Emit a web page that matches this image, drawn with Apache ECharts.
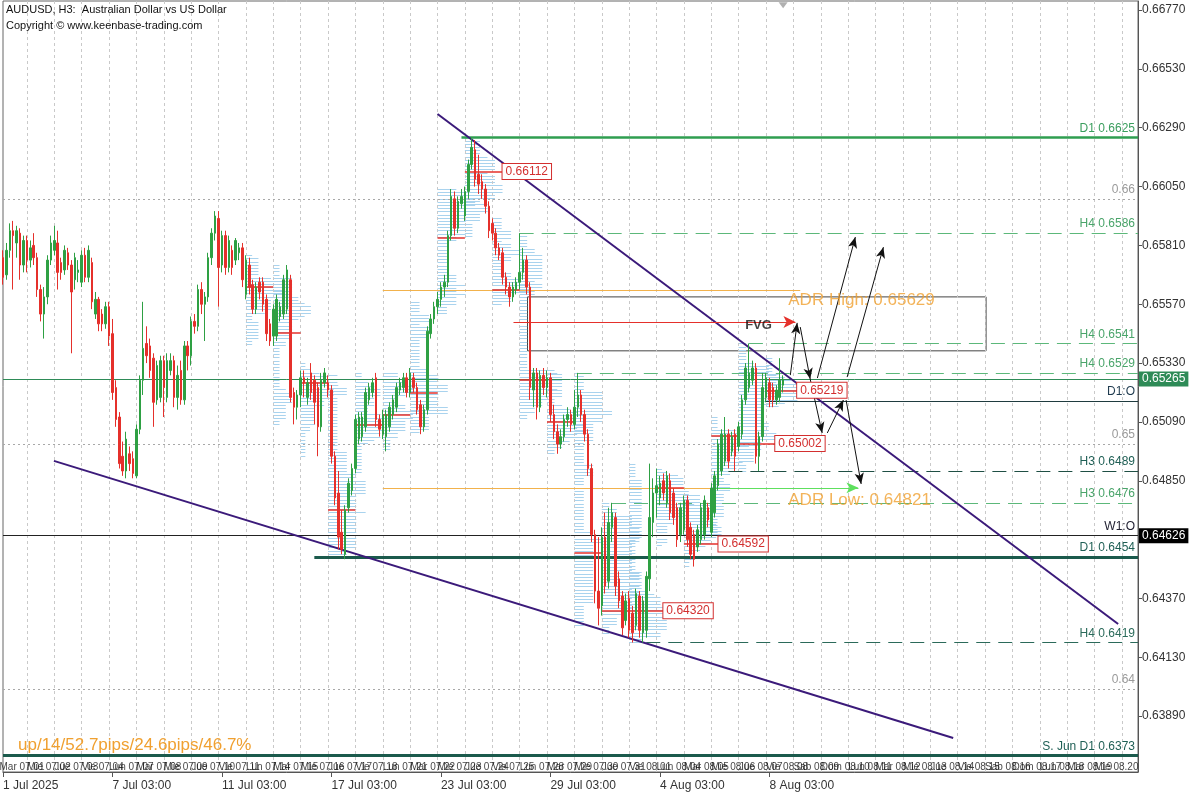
<!DOCTYPE html>
<html><head><meta charset="utf-8">
<script src="https://cdn.jsdelivr.net/npm/echarts@6/dist/echarts.min.js"></script>
<style>html,body{margin:0;padding:0;background:#fff}#c{width:1200px;height:800px}</style>
</head><body><div id="c"></div>
<script>
// ---------- DATA ----------
// H3 bars from 1 Jul 2025 00:00, 8 per trading day: [open, close, low, high]
const ohlc = [
// 1 Jul
[.6572,.6576,.6570,.6580],[.6576,.6568,.6565,.6579],[.6569,.6579,.6567,.6582],[.6579,.6587,.6576,.6590],[.6587,.6585,.6563,.6591],[.6582,.6587,.6576,.6589],[.6586,.6573,.6567,.6588],[.6573,.6583,.6570,.6585],
// 2 Jul
[.6583,.6575,.6570,.6585],[.6575,.6580,.6572,.6583],[.6581,.6576,.6573,.6586],[.6576,.6563,.6560,.6578],[.6563,.6553,.6550,.6565],[.6553,.6560,.6543,.6564],[.6560,.6575,.6557,.6577],[.6575,.6582,.6573,.6585],
// 3 Jul
[.6579,.6583,.6577,.6589],[.6582,.6570,.6563,.6587],[.6574,.6570,.6567,.6576],[.6571,.6579,.6569,.6581],[.6578,.6573,.6571,.6580],[.6573,.6562,.6537,.6575],[.6567,.6576,.6563,.6578],[.6570,.6571,.6566,.6575],
// 4 Jul
[.6566,.6577,.6564,.6579],[.6577,.6568,.6566,.6580],[.6568,.6579,.6566,.6581],[.6574,.6558,.6555,.6576],[.6553,.6559,.6551,.6562],[.6559,.6549,.6546,.6560],[.6553,.6549,.6546,.6555],[.6549,.6556,.6547,.6558],
// 7 Jul
[.6556,.6544,.6540,.6558],[.6545,.6521,.6518,.6551],[.6523,.6510,.6507,.6526],[.6511,.6492,.6490,.6513],[.6495,.6489,.6487,.6501],[.6489,.6502,.6486,.6505],[.6496,.6492,.6489,.6499],[.6494,.6488,.6486,.6497],
// 8 Jul
[.6487,.6506,.6486,.6508],[.6506,.6526,.6504,.6528],[.6526,.6539,.6520,.6558],[.6541,.6536,.6533,.6548],[.6540,.6530,.6527,.6543],[.6535,.6517,.6507,.6537],[.6518,.6532,.6516,.6534],[.6519,.6534,.6517,.6536],
// 9 Jul
[.6534,.6523,.6511,.6536],[.6519,.6534,.6517,.6537],[.6530,.6534,.6528,.6537],[.6534,.6519,.6515,.6536],[.6519,.6528,.6514,.6532],[.6530,.6518,.6516,.6534],[.6518,.6540,.6516,.6542],[.6540,.6536,.6530,.6542],
// 10 Jul
[.6536,.6550,.6532,.6552],[.6550,.6548,.6545,.6553],[.6548,.6563,.6546,.6565],[.6563,.6557,.6553,.6566],[.6557,.6560,.6542,.6562],[.6560,.6576,.6558,.6578],[.6576,.6586,.6573,.6588],[.6586,.6593,.6583,.6595],
// 11 Jul
[.6592,.6572,.6556,.6595],[.6573,.6585,.6570,.6587],[.6585,.6572,.6569,.6587],[.6572,.6583,.6570,.6585],[.6579,.6572,.6569,.6581],[.6575,.6583,.6573,.6584],[.6578,.6580,.6575,.6582],[.6580,.6567,.6564,.6582],
// 14 Jul
[.6561,.6575,.6559,.6577],[.6573,.6564,.6561,.6576],[.6565,.6555,.6553,.6567],[.6555,.6564,.6553,.6566],[.6566,.6562,.6559,.6568],[.6566,.6557,.6554,.6568],[.6559,.6545,.6542,.6561],[.6549,.6542,.6540,.6551],
// 15 Jul
[.6544,.6555,.6540,.6557],[.6544,.6559,.6542,.6561],[.6552,.6556,.6550,.6558],[.6553,.6567,.6551,.6569],[.6555,.6571,.6553,.6573],[.6567,.6519,.6517,.6569],[.6521,.6515,.6508,.6523],[.6515,.6520,.6510,.6522],
// 16 Jul
[.6520,.6527,.6515,.6530],[.6527,.6525,.6519,.6530],[.6519,.6525,.6516,.6527],[.6529,.6521,.6518,.6533],[.6526,.6517,.6508,.6528],[.6523,.6507,.6495,.6525],[.6507,.6526,.6505,.6529],[.6525,.6529,.6523,.6531],
// 17 Jul
[.6525,.6522,.6519,.6528],[.6522,.6495,.6492,.6524],[.6495,.6478,.6475,.6497],[.6480,.6462,.6457,.6489],[.6464,.6457,.6455,.6473],[.6455,.6473,.6453,.6475],[.6474,.6484,.6472,.6486],[.6481,.6490,.6479,.6492],
// 18 Jul
[.6490,.6510,.6488,.6512],[.6502,.6511,.6500,.6513],[.6503,.6511,.6501,.6513],[.6507,.6521,.6505,.6523],[.6518,.6523,.6516,.6525],[.6521,.6525,.6519,.6527],[.6527,.6510,.6507,.6529],[.6510,.6506,.6503,.6512],
// 21 Jul
[.6504,.6512,.6502,.6514],[.6503,.6512,.6497,.6514],[.6507,.6515,.6505,.6517],[.6512,.6518,.6510,.6520],[.6515,.6523,.6513,.6525],[.6522,.6525,.6520,.6527],[.6523,.6527,.6521,.6529],[.6527,.6521,.6519,.6529],
// 22 Jul
[.6521,.6529,.6519,.6531],[.6527,.6523,.6521,.6529],[.6523,.6514,.6512,.6525],[.6516,.6507,.6504,.6518],[.6507,.6514,.6505,.6516],[.6514,.6546,.6512,.6548],[.6545,.6551,.6543,.6553],[.6551,.6556,.6549,.6558],
// 23 Jul
[.6556,.6559,.6553,.6562],[.6559,.6564,.6556,.6566],[.6564,.6566,.6560,.6569],[.6566,.6585,.6564,.6587],[.6585,.6601,.6583,.6604],[.6600,.6588,.6585,.6603],[.6588,.6599,.6586,.6601],[.6598,.6601,.6596,.6604],
// 24 Jul
[.6593,.6603,.6591,.6605],[.6603,.6614,.6600,.6616],[.6614,.6621,.6612,.6625],[.6620,.6608,.6605,.6624],[.6610,.6606,.6602,.6618],[.6607,.6604,.6600,.6610],[.6604,.6597,.6594,.6606],[.6597,.6587,.6584,.6599],
// 25 Jul
[.6590,.6586,.6583,.6592],[.6586,.6580,.6577,.6588],[.6580,.6577,.6575,.6582],[.6578,.6568,.6565,.6580],[.6568,.6564,.6561,.6570],[.6564,.6560,.6556,.6566],[.6560,.6564,.6558,.6566],[.6563,.6566,.6561,.6568],
// 28 Jul
[.6566,.6570,.6563,.6586],[.6570,.6575,.6567,.6580],[.6575,.6564,.6561,.6577],[.6564,.6523,.6518,.6566],[.6522,.6529,.6515,.6531],[.6529,.6515,.6510,.6531],[.6515,.6528,.6513,.6530],[.6528,.6523,.6520,.6531],
// 29 Jul
[.6523,.6527,.6519,.6530],[.6527,.6512,.6509,.6529],[.6512,.6505,.6502,.6516],[.6505,.6500,.6496,.6508],[.6500,.6503,.6498,.6506],[.6503,.6510,.6501,.6512],[.6510,.6512,.6507,.6515],[.6512,.6508,.6505,.6514],
// 30 Jul
[.6508,.6515,.6506,.6522],[.6515,.6520,.6511,.6529],[.6520,.6512,.6509,.6522],[.6512,.6504,.6501,.6514],[.6504,.6490,.6487,.6506],[.6490,.6463,.6460,.6492],[.6463,.6440,.6435,.6465],[.6440,.6433,.6426,.6462],
// 31 Jul
[.6434,.6462,.6430,.6466],[.6462,.6442,.6439,.6472],[.6444,.6468,.6441,.6474],[.6466,.6472,.6460,.6476],[.6470,.6442,.6438,.6472],[.6445,.6436,.6433,.6448],[.6438,.6425,.6422,.6440],[.6428,.6436,.6426,.6439],
// 1 Aug
[.6437,.6424,.6421,.6440],[.6431,.6423,.6419,.6434],[.6426,.6439,.6424,.6441],[.6438,.6424,.6421,.6440],[.6423,.6436,.6419,.6438],[.6424,.6446,.6421,.6448],[.6445,.6470,.6440,.6492],[.6468,.6480,.6462,.6486],
// 4 Aug
[.6480,.6483,.6470,.6490],[.6478,.6484,.6475,.6487],[.6485,.6480,.6477,.6488],[.6476,.6487,.6474,.6489],[.6485,.6472,.6469,.6488],[.6480,.6470,.6467,.6482],[.6474,.6461,.6458,.6476],[.6463,.6474,.6460,.6476],
// 5 Aug
[.6465,.6477,.6463,.6479],[.6477,.6461,.6458,.6479],[.6466,.6455,.6453,.6468],[.6463,.6453,.6450,.6465],[.6458,.6465,.6456,.6467],[.6461,.6474,.6459,.6476],[.6463,.6477,.6461,.6479],[.6474,.6469,.6466,.6476],
// 6 Aug
[.6464,.6482,.6462,.6484],[.6472,.6487,.6470,.6489],[.6483,.6500,.6481,.6502],[.6489,.6504,.6487,.6506],[.6493,.6504,.6491,.6511],[.6504,.6493,.6490,.6506],[.6497,.6503,.6495,.6505],[.6504,.6495,.6489,.6506],
// 7 Aug
[.6499,.6507,.6497,.6509],[.6504,.6518,.6502,.6520],[.6518,.6531,.6516,.6533],[.6523,.6529,.6521,.6541],[.6526,.6531,.6524,.6534],[.6531,.6495,.6492,.6533],[.6495,.6503,.6489,.6505],[.6503,.6523,.6501,.6529],
// 8 Aug
[.6519,.6527,.6517,.6529],[.6525,.6518,.6515,.6527],[.6523,.6518,.6515,.6525],[.6518,.6522,.6516,.6524],[.6519,.6526,.6517,.6535],[.6524,.65265,.6521,.6528]
];

// time axis ticks (bar index) and texts
const xTickBars   = [33, 65, 97, 129, 161, 193, 225];
const xTickLabels = ['7 Jul 03:00','11 Jul 03:00','17 Jul 03:00','23 Jul 03:00','29 Jul 03:00','4 Aug 03:00','8 Aug 03:00'];
const firstDateLabel = '1 Jul 2025';
const yTicks = [0.63890,0.64130,0.64370,0.64610,0.64850,0.65090,0.65330,0.65570,0.65810,0.66050,0.66290,0.66530,0.66770];
const dayNamesEs = ['Dom','Lun','Mar','Mie','Jue','Vie','Sab'];

// horizontal levels
const levelNames  = ['D1 0.6625','0.66','H4 0.6586','H4 0.6541','H4 0.6529','D1:O','0.65','H3 0.6489','H3 0.6476','W1:O','D1 0.6454','H4 0.6419','0.64','S. Jun D1 0.6373'];
const levelPrices = [0.6625, 0.66, 0.6586, 0.6541, 0.6529, 0.65175, 0.65, 0.6489, 0.6476, 0.64626, 0.6454, 0.6419, 0.64, 0.6373];
const levelFrom   = [135, null, 152, 219, 169, 224, null, 213, 179, null, 92, 189, null, null];
const levelKinds  = ['d1','round','h4','h4','h4','dopen','round','h3dark','h4','wopen','d1dark','h4dark','round','d1dark'];

// daily POC (red) lines, unlabeled: trading-day index and price
const pocDays   = [9, 10, 11, 12, 13, 14, 15, 16, 18, 19, 20, 21, 22, 24, 26];
const pocPrices = [0.65640,0.65453,0.65249,0.64730,0.65077,0.65118,0.65208,0.65840,0.65628,0.65261,0.65090,0.64555,0.64320,0.64821,0.65033];
// labeled POCs: price, from bar, label bar
const pocTagPrices = [0.66112, 0.65219, 0.65002, 0.64592, 0.64320];
const pocTagFrom   = [136, 224, 216, 200, 184];
const pocTagAt     = [147, 233.1, 226.7, 210.1, 194];

// trend lines [bar1, price1, bar2, price2]
const trendLines = [[128.0, 0.66346, 326.9, 0.64266], [15.9, 0.64931, 278.7, 0.63801]];
// scenario arrows [bar1, price1, bar2, price2]
const scenarioArrows = [
  [231.1,0.65281,233.1,0.65494],[234.0,0.65477,236.9,0.65265],[239.0,0.65269,250.1,0.65844],
  [236.9,0.65265,240.4,0.65045],[241.9,0.65045,246.6,0.65179],[247.7,0.65273,258.3,0.65803],
  [247.4,0.65179,251.8,0.64837]
];
// FVG zone and arrow
const fvgZone  = [154.3, 288.3, 0.6560, 0.6538];   // fromBar, toBar, top, bottom
const fvgArrow = [150.2, 232.6, 0.65498];          // fromBar, toBar, price
// ADR
const adrHigh = 0.65629, adrLow = 0.64821;
const adrHighSpan = [112, 234];
const adrLowSpan  = [112, 209, 251];               // orange part, then green arrow
// free text notes
const noteTexts  = ['FVG', 'ADR High: 0.65629', 'ADR Low: 0.64821'];
const noteBars   = [221.8, 230.5, 230.5];
const notePrices = [0.65485, 0.65587, 0.64772];
const weekOpen = 0.64626;
const statText = 'up/14/52.7pips/24.6pips/46.7%';

// ---------- LAYOUT ----------
const X_MIN = 1.02, X_MAX = 332.7;
const Y_MIN = 0.63662, Y_MAX = 0.66807;
const FONT = 'Liberation Sans, Arial, sans-serif';
const GREEN = '#2ea043', RED = '#e5302b';

const levelStyle = {
  d1:    {color:'#2f9e50', width:2.5, type:'solid', text:'#3a9d5d'},
  round: {color:'#a8a8a8', width:1, type:[2,3], text:'#9a9a9a'},
  h4:    {color:'#5cb87a', width:1, type:[14,8], text:'#4aa46a'},
  dopen: {color:'#1f3b3f', width:1, type:'solid', text:'#1f3b4f'},
  h3dark:{color:'#1f4f44', width:1, type:[14,8], text:'#1f5f55'},
  wopen: {color:'#222222', width:1, type:'solid', text:'#222233'},
  d1dark:{color:'#1b5a4c', width:3, type:'solid', text:'#1f5f55'},
  h4dark:{color:'#2b6a5a', width:1, type:[14,8], text:'#2b6a5a'}
};

const candleData = ohlc.map((b, i) => [i, b[0], b[1], b[2], b[3]]);
const LAST = ohlc.length - 1;
const lastClose = ohlc[LAST][1];
const nTradingDays = Math.ceil(ohlc.length / 8);

// daily volume profile rows (time-at-price counted from the candles)
const ROW_STEP = 0.00013, PROFILE_FIRST_DAY = 9, PROFILE_MAX_BARS = 11;
const profileRows = [];
for (let d = PROFILE_FIRST_DAY; d < nTradingDays; d++) {
  const bars = ohlc.slice(d * 8, d * 8 + 8);
  const lo = Math.min(...bars.map(b => b[2])), hi = Math.max(...bars.map(b => b[3]));
  const rows = [];
  for (let p = hi; p >= lo; p -= ROW_STEP) {
    let n = 0; bars.forEach(b => { if (b[2] <= p && b[3] >= p) n++; });
    rows.push([p, n]);
  }
  const mx = Math.max(...rows.map(r => r[1]));
  rows.forEach(r => { if (r[1]) profileRows.push([d * 8, d * 8 + r[1] / mx * PROFILE_MAX_BARS, r[0]]); });
}

// day labels row (trading days then calendar days in the future)
const dayLabelData = [];
{
  let dt = new Date(Date.UTC(2025, 6, 1)); let bar = 0; let tcount = 0;
  while (bar <= 320) {
    const wd = dt.getUTCDay();
    const future = tcount >= nTradingDays;
    if (future || (wd !== 0 && wd !== 6)) {
      const mm = String(dt.getUTCMonth() + 1).padStart(2, '0');
      const dd = String(dt.getUTCDate()).padStart(2, '0');
      dayLabelData.push([bar, Y_MIN + 0.0002, dayNamesEs[wd] + ' ' + mm + '.' + dd]);
      bar += 8; tcount++;
    }
    dt = new Date(dt.getTime() + 86400000);
  }
}

// ---------- MARK LINES ----------
const gridLines = [];
for (let b = 8; b < X_MAX; b += 8) gridLines.push({xAxis: b});

function hline(price, from, lineStyle, label) {
  return [{coord:[from === null ? X_MIN : from, price], lineStyle, label}, {coord:[X_MAX, price]}];
}

const levelLines = levelNames.map((name, i) => {
  const st = levelStyle[levelKinds[i]];
  const lbl = {show:true, formatter:name, position:'insideEndTop', color:st.text, fontSize:12, fontFamily:FONT, distance:[3,3]};
  const ls = {color:st.color, width:st.width, type:st.type};
  return hline(levelPrices[i], levelFrom[i], ls, lbl);
});
// current price + week open tags on the price scale
levelLines.push(hline(lastClose, null, {color:'#2e8b57', width:1, type:'solid'},
  {show:true, position:'end', formatter:lastClose.toFixed(5), color:'#fff', backgroundColor:'#2e8b57', padding:[2,3,1,3], fontSize:12, fontFamily:FONT, distance:1}));
levelLines.push(hline(weekOpen, null, {color:'rgba(0,0,0,0)', width:1, type:'solid'},
  {show:true, position:'end', formatter:weekOpen.toFixed(5), color:'#fff', backgroundColor:'#000', padding:[2,3,1,3], fontSize:12, fontFamily:FONT, distance:1}));

// ADR lines
const adrLines = [
  [{coord:[adrHighSpan[0], adrHigh], lineStyle:{color:'#f2b24c', width:1}}, {coord:[adrHighSpan[1], adrHigh]}],
  [{coord:[adrLowSpan[0], adrLow], lineStyle:{color:'#f2b24c', width:1}}, {coord:[adrLowSpan[1], adrLow]}],
  [{coord:[adrLowSpan[1], adrLow], lineStyle:{color:'#5ee05e', width:1}}, {coord:[adrLowSpan[2], adrLow], symbol:'arrow', symbolSize:[8,12], itemStyle:{color:'#3bd63b'}}]
];

// POC lines
const pocLines = pocDays.map((d, i) => [{coord:[d * 8, pocPrices[i]]}, {coord:[d * 8 + 8, pocPrices[i]]}]);
const pocTagLines = pocTagPrices.map((p, i) => [
  {coord:[pocTagFrom[i], p], label:{show:true, position:'end', distance:0, formatter:p.toFixed(5), color:'#d32f2f', backgroundColor:'#fff', borderColor:'#d32f2f', borderWidth:1, padding:[2,3,1,3], fontSize:12, fontFamily:FONT}},
  {coord:[pocTagAt[i], p]}
]);

// trend lines and arrows
const drawLines = trendLines.map(t => [{coord:[t[0], t[1]], lineStyle:{color:'#3b1a7a', width:2}}, {coord:[t[2], t[3]]}]);
scenarioArrows.forEach(a => drawLines.push([
  {coord:[a[0], a[1]], lineStyle:{color:'#111', width:1}},
  {coord:[a[2], a[3]], symbol:'arrow', symbolSize:[7,11], itemStyle:{color:'#111'}}
]));
drawLines.push([
  {coord:[fvgArrow[0], fvgArrow[2]], lineStyle:{color:'#e5302b', width:1}},
  {coord:[fvgArrow[1], fvgArrow[2]], symbol:'arrow', symbolSize:[9,12], itemStyle:{color:'#e5302b'}}
]);

function helper(name, z, extra) {
  return Object.assign({name, type:'scatter', data:[[X_MAX, Y_MIN]], symbolSize:0, silent:true, z, animation:false}, extra);
}
function ml(data, lineStyle) {
  return {silent:true, symbol:'none', precision:6, label:{show:false}, lineStyle:Object.assign({type:'solid', width:1}, lineStyle || {}), data};
}

const option = {
  animation: false,
  backgroundColor: '#ffffff',
  grid: {left: 2, right: 62, top: 1, bottom: 28, show: true, borderColor: '#666', borderWidth: 1, backgroundColor: '#fff'},
  xAxis: {
    type: 'value', min: X_MIN, max: X_MAX,
    axisLine: {show: true, onZero: false, lineStyle: {color: '#555'}},
    axisTick: {show: true, customValues: [X_MIN, ...xTickBars], length: 5, lineStyle: {color: '#555'}},
    axisLabel: {customValues: [X_MIN, ...xTickBars], align: 'left', color: '#333', fontSize: 12, fontFamily: FONT, margin: 8,
      formatter: v => { if (Math.abs(v - X_MIN) < 0.01) return firstDateLabel; const k = xTickBars.indexOf(Math.round(v)); return k >= 0 ? xTickLabels[k] : ''; }},
    splitLine: {show: false}
  },
  yAxis: {
    type: 'value', position: 'right', min: Y_MIN, max: Y_MAX, scale: true,
    axisLine: {show: true, lineStyle: {color: '#555'}},
    axisTick: {show: true, customValues: yTicks, length: 4, lineStyle: {color: '#555'}},
    axisLabel: {customValues: yTicks, formatter: v => v.toFixed(5), color: '#333', fontSize: 12, fontFamily: FONT, margin: 4},
    splitLine: {show: false}
  },
  graphic: [
    {type:'text', left: 6, top: 4, z: 50, style:{text:'AUDUSD, H3:  Australian Dollar vs US Dollar', font:'11px ' + FONT, fill:'#111'}},
    {type:'text', left: 6, top: 20, z: 50, style:{text:'Copyright \u00a9 www.keenbase-trading.com', font:'11px ' + FONT, fill:'#111'}},
    {type:'text', left: 18, top: 737, z: 50, style:{text: statText, font:'17px ' + FONT, fill:'#f0a030'}}
  ],
  series: [
    {
      name:'profiles', type:'custom', silent:true, z:1, data: profileRows, encode:{x:[0,1], y:2},
      renderItem: (params, api) => {
        const a = api.coord([api.value(0), api.value(2)]);
        const b = api.coord([api.value(1), api.value(2)]);
        const y = Math.round(a[1]) + 0.5;
        return {type:'line', shape:{x1:a[0], y1:y, x2:b[0], y2:y}, style:{stroke:'#a9d3ee', lineWidth:1}};
      }
    },
    helper('grid', 2, {markLine: ml(gridLines, {color:'#c9c9c9', type:[3,3]})}),
    helper('levels', 3, {markLine: ml(levelLines)}),
    helper('fvg', 3, {markArea:{silent:true, itemStyle:{color:'rgba(0,0,0,0)', borderColor:'#444', borderWidth:1},
      data:[[{coord:[fvgZone[0], fvgZone[2]]}, {coord:[fvgZone[1], fvgZone[3]]}]]}}),
    helper('adr', 4, {markLine: ml(adrLines)}),
    {
      name:'AUDUSD', type:'candlestick', data: candleData, encode:{x:0, y:[1,2,3,4]}, barWidth: 2, silent:true, z:5,
      itemStyle:{color: GREEN, color0: RED, borderColor: GREEN, borderColor0: RED, borderWidth: 1},
      markPoint:{silent:true, data:[{coord:[LAST, 0.66790], symbol:'triangle', symbolRotate:180, symbolSize:[9,6], itemStyle:{color:'#b0b0b0'}, label:{show:false}}]}
    },
    helper('poc', 6, {markLine: ml(pocLines.concat(pocTagLines), {color:'#e5302b', width:1.5})}),
    helper('draw', 7, {markLine: ml(drawLines)}),
    {
      name:'notes', type:'scatter', silent:true, z:8, symbolSize:0,
      data: noteTexts.map((t, i) => ({
        value: [noteBars[i], notePrices[i]],
        label: i === 0
          ? {show:true, position:'inside', formatter:t, fontSize:13, fontWeight:'bold', color:'#111', fontFamily:FONT}
          : {show:true, position:'right', distance:0, formatter:t, fontSize:17, color:'#f0a030', fontFamily:FONT}
      })),
      itemStyle:{color:'transparent'}
    },
    {
      name:'days', type:'scatter', silent:true, z:8, symbolSize:0, clip:false,
      data: dayLabelData,
      label:{show:true, position:'right', distance:0, formatter: p => p.data[2], fontSize:10, fontFamily:'Liberation Sans Narrow, ' + FONT, color:'#111'},
      itemStyle:{color:'transparent'}
    }
  ]
};

const chart = echarts.init(document.getElementById('c'), null, {renderer:'canvas', width:1200, height:800});
chart.setOption(option);
</script>
</body></html>
